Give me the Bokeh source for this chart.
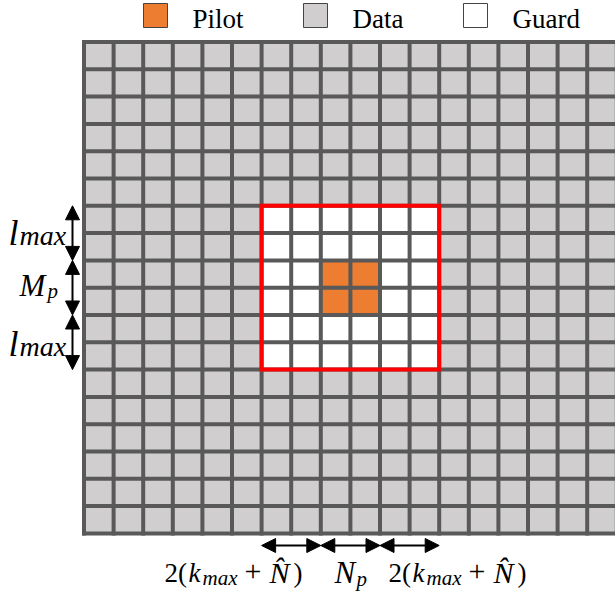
from bokeh.plotting import figure
from bokeh.models import Range1d, Arrow, NormalHead
from bokeh.core.properties import value
from bokeh.embed import file_html
from bokeh.resources import INLINE

# ---------------- data ----------------
n_rows = 18
n_cols = 18
pilot_rows = [8, 9]
pilot_cols = [8, 9]
guard_rows = [6, 7, 8, 9, 10, 11]
guard_cols = [6, 7, 8, 9, 10, 11]
legend_labels = ["Pilot", "Data", "Guard"]
legend_colors = ["#ED7D31", "#D0CECE", "#FFFFFF"]
row_spans = [(6, 8), (8, 10), (10, 12)]
col_spans = [(6, 8), (8, 10), (10, 12)]

# ---------------- layout ----------------
W, H = 615, 595
X0, DX = 83.5, 29.6   # px of column 0 and column pitch
Y0, DY = 41.5, 27.3   # px of row 0 and row pitch
TEXT_DY = -8          # correction for rendered baseline position
FONT = value("Liberation Serif")
GRID_COLOR = "#595959"


def cx(px):
    return (px - X0) / DX


def ry(py):
    return (py - Y0) / DY


p = figure(width=W, height=H, output_backend="svg", toolbar_location=None,
           x_range=Range1d(cx(0), cx(W)),
           y_range=Range1d(ry(H), ry(0)),
           min_border=0, x_axis_location=None, y_axis_location=None,
           outline_line_color=None, background_fill_color="white",
           border_fill_color="white")
p.grid.visible = False

# ---------------- cells ----------------
left, right, top, bottom, colors = [], [], [], [], []
for r in range(n_rows):
    for c in range(n_cols):
        if r in pilot_rows and c in pilot_cols:
            col = legend_colors[0]
        elif r in guard_rows and c in guard_cols:
            col = legend_colors[2]
        else:
            col = legend_colors[1]
        left.append(c)
        right.append(c + 1)
        top.append(r)
        bottom.append(r + 1)
        colors.append(col)
p.quad(left=left, right=right, top=top, bottom=bottom, fill_color=colors,
       line_color=None)

# grid lines
x0s, y0s, x1s, y1s = [], [], [], []
for c in range(n_cols + 1):
    x0s.append(c); y0s.append(0); x1s.append(c); y1s.append(n_rows)
for r in range(n_rows + 1):
    x0s.append(0); y0s.append(r); x1s.append(n_cols); y1s.append(r)
p.segment(x0=x0s, y0=y0s, x1=x1s, y1=y1s, line_color=GRID_COLOR,
          line_width=4, line_cap="square")

# red guard box
p.quad(left=[min(guard_cols)], right=[max(guard_cols) + 1],
       top=[min(guard_rows)], bottom=[max(guard_rows) + 1],
       fill_alpha=0, line_color="#FF0000", line_width=4, line_join="miter")


def piece(px, py, s, size, style="normal"):
    p.text(x=[cx(px)], y=[ry(py + TEXT_DY)], text=[s], text_font=FONT,
           text_font_size=f"{size}px", text_font_style=style,
           text_baseline="alphabetic", text_align="left", text_color="black")


# ---------------- legend ----------------
for i, (lab, colr) in enumerate(zip(legend_labels, legend_colors)):
    sx = 143 + 160 * i
    p.quad(left=[cx(sx)], right=[cx(sx + 24)], top=[ry(3)], bottom=[ry(27)],
           fill_color=colr, line_color="#444444", line_width=1)
    piece(sx + 49, 26, lab, 27)

# ---------------- arrows ----------------
def head():
    return NormalHead(size=14, fill_color="black", line_color="black", line_width=1)


AX = cx(72)
for (a, b) in row_spans:
    p.add_layout(Arrow(x_start=AX, y_start=a, x_end=AX, y_end=b,
                       line_width=2, line_color="black", start=head(), end=head()))
AY = ry(545)
for (a, b) in col_spans:
    p.add_layout(Arrow(x_start=a, y_start=AY, x_end=b, y_end=AY,
                       line_width=2, line_color="black", start=head(), end=head()))


# left labels
def lmax(base):
    piece(8, base, "l", 36, "italic")
    piece(19, base + 3, "max", 28, "italic")


lmax(240)
piece(19, 293, "M", 31, "italic")
piece(47, 298, "p", 21, "italic")
lmax(351)


# bottom labels
def kn_label(x0, base):
    piece(x0, base, "2(", 27)
    piece(x0 + 24, base, "k", 27, "italic")
    piece(x0 + 38, base + 5, "max", 21, "italic")
    piece(x0 + 80, base - 1, "+", 30)
    piece(x0 + 105, base, "N\u0302", 30, "italic")
    piece(x0 + 129, base, ")", 27)


kn_label(164, 580)
piece(334, 580, "N", 31, "italic")
piece(356, 586, "p", 21, "italic")
kn_label(388, 580)

open("out.html", "w").write(file_html(p, INLINE))
